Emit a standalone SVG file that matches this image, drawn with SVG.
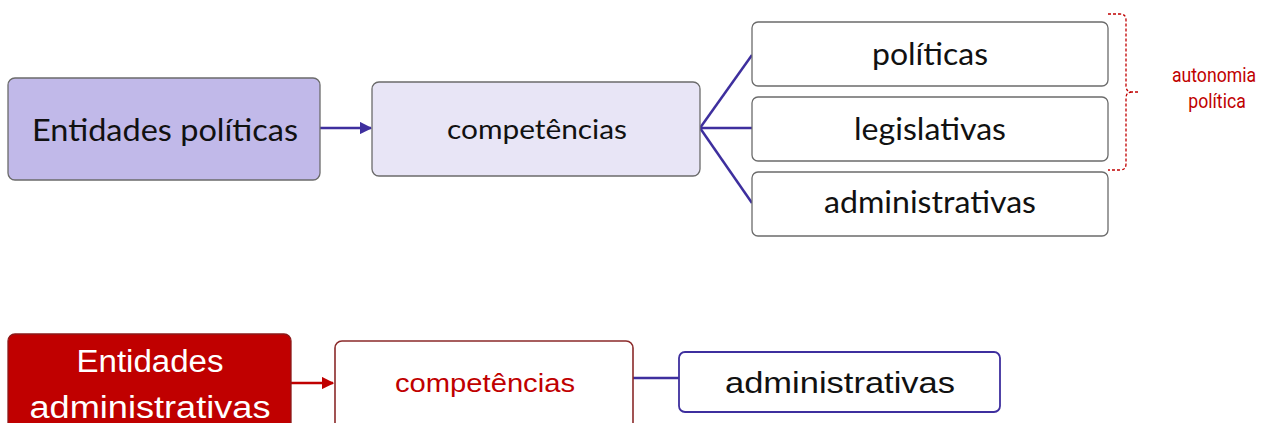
<svg xmlns="http://www.w3.org/2000/svg" width="1262" height="423" viewBox="0 0 1262 423">
<defs>
<style>
.gbox{stroke:#6b6b6b;stroke-width:1.3}
.t{font-family:"Lato","Open Sans",sans-serif;text-anchor:middle;fill:#111}
.c{font-family:"Liberation Sans","Open Sans",sans-serif;text-anchor:middle}
.con{stroke:#3e2f9e;stroke-width:2.5;fill:none}
.r{font-family:Roboto,sans-serif;font-size:21px;fill:#c00000;text-anchor:middle}
</style>
<marker id="ab" viewBox="0 0 10 10" refX="9" refY="5" markerWidth="5" markerHeight="5" orient="auto"><path d="M0,0L10,5L0,10z" fill="#3e2f9e"/></marker>
<marker id="ar" viewBox="0 0 10 10" refX="9" refY="5" markerWidth="5" markerHeight="5" orient="auto"><path d="M0,0L10,5L0,10z" fill="#c00000"/></marker>
</defs>
<g id="connectors">
<line class="con" x1="320" y1="128" x2="371" y2="128" marker-end="url(#ab)"/>
<line class="con" x1="700" y1="128" x2="752" y2="55"/>
<line class="con" x1="700" y1="128" x2="752" y2="128"/>
<line class="con" x1="700" y1="128" x2="752" y2="203"/>
<line x1="291" y1="383" x2="333" y2="383" stroke="#c00000" stroke-width="2.5" marker-end="url(#ar)"/>
<line class="con" x1="633" y1="378" x2="679" y2="378"/>
</g>
<g id="n1"><rect class="gbox" x="8" y="78" width="312" height="102" rx="7" fill="#c1b9e9"/><text class="t" x="165" y="141" font-size="31" textLength="266" lengthAdjust="spacingAndGlyphs">Entidades políticas</text></g>
<g id="n2"><rect class="gbox" x="372" y="82" width="328" height="94" rx="7" fill="#e8e5f6"/><text class="t" x="537" y="139" font-size="26" textLength="180" lengthAdjust="spacingAndGlyphs">competências</text></g>
<g id="n3"><rect class="gbox" x="752" y="22" width="356" height="64" rx="6" fill="#fff"/><text class="t" x="930" y="65" font-size="31" textLength="116" lengthAdjust="spacingAndGlyphs">políticas</text></g>
<g id="n4"><rect class="gbox" x="752" y="97" width="356" height="64" rx="6" fill="#fff"/><text class="t" x="930" y="140" font-size="31" textLength="152" lengthAdjust="spacingAndGlyphs">legislativas</text></g>
<g id="n5"><rect class="gbox" x="752" y="172" width="356" height="64" rx="6" fill="#fff"/><text class="t" x="930" y="213" font-size="31" textLength="212" lengthAdjust="spacingAndGlyphs">administrativas</text></g>
<g id="bracket"><path d="M1108,14 H1120 Q1126,14 1126,20 V86 Q1126,92 1132,92 H1140 M1132,92 Q1126,92 1126,98 V164 Q1126,170 1120,170 H1108" fill="none" stroke="#c00000" stroke-width="1.3" stroke-dasharray="3,2"/>
<text class="r" transform="translate(1214,82) scale(0.84,1)">autonomia</text>
<text class="r" transform="translate(1217,108) scale(0.84,1)">política</text></g>
<g id="n6"><rect x="8" y="334" width="283" height="100" rx="7" fill="#c00000" stroke="#8b1a1a" stroke-width="1.3"/><text class="c" x="150" y="372" font-size="31" fill="#fff" textLength="147" lengthAdjust="spacingAndGlyphs">Entidades</text><text class="c" x="150" y="418" font-size="31" fill="#fff" textLength="241" lengthAdjust="spacingAndGlyphs">administrativas</text></g>
<g id="n7"><rect x="335" y="341" width="298" height="95" rx="7" fill="#fff" stroke="#8b2a2a" stroke-width="1.6"/><text class="c" x="485" y="392" font-size="25" fill="#c00000" textLength="180" lengthAdjust="spacingAndGlyphs">competências</text></g>
<g id="n8"><rect x="679" y="352" width="321" height="60" rx="6" fill="#fff" stroke="#3e2f9e" stroke-width="1.8"/><text class="c" x="840" y="393" font-size="30" fill="#111" textLength="230" lengthAdjust="spacingAndGlyphs">administrativas</text></g>
</svg>
